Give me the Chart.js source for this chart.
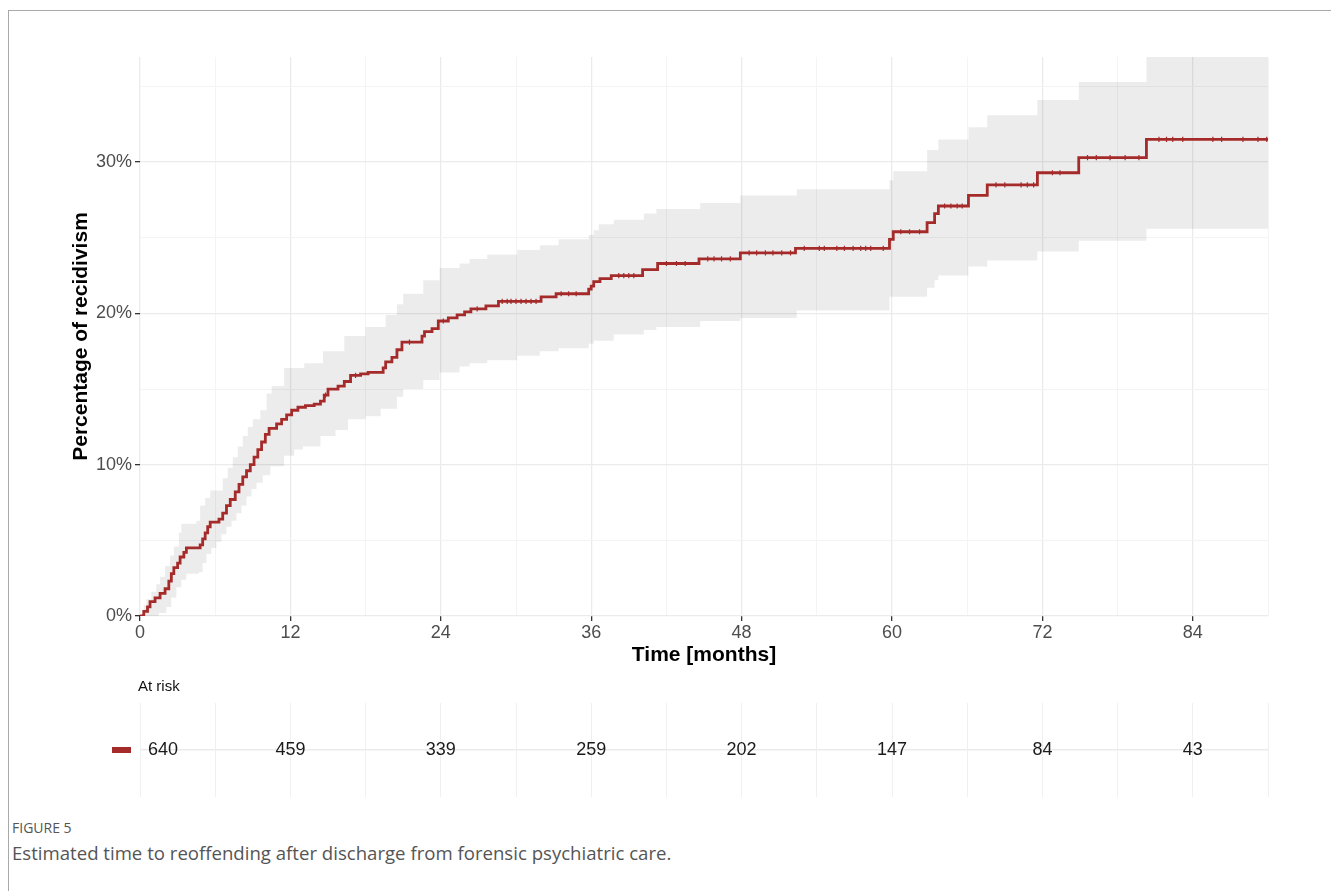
<!DOCTYPE html>
<html>
<head>
<meta charset="utf-8">
<title>Estimated time to reoffending</title>
<script src="https://cdn.jsdelivr.net/npm/chart.js@4.4.0/dist/chart.umd.min.js"></script>
<style>
  html, body { margin: 0; padding: 0; background: #fff; }
  body { width: 1331px; height: 891px; position: relative; overflow: hidden; font-family: "Liberation Sans", Arial, sans-serif; }
  #frame { position: absolute; left: 8px; top: 10px; width: 1400px; height: 1000px; border-left: 1.5px solid #a9a9a9; border-top: 1.5px solid #a9a9a9; }
  #mainChart { position: absolute; left: 0; top: 0; }
  #riskChart { position: absolute; left: 0; top: 690px; }
  #atRisk { position: absolute; left: 138px; top: 677px; font-size: 15px; color: #111; }
  #figLabel { position: absolute; left: 12px; top: 818px; font-family: "Open Sans", sans-serif; font-size: 14px; color: #555; }
  #caption { position: absolute; left: 12px; top: 840px; font-family: "Open Sans", sans-serif; font-size: 18.6px; color: #555; }
</style>
</head>
<body>
<div id="frame"></div>
<canvas id="mainChart" width="1331" height="680"></canvas>
<div id="atRisk">At risk</div>
<canvas id="riskChart" width="1331" height="120"></canvas>
<div id="figLabel">FIGURE 5</div>
<div id="caption">Estimated time to reoffending after discharge from forensic psychiatric care.</div>

<script>
// Kaplan-Meier estimate (cumulative % reoffended), step values from each time onward
const kmTime = [0, 0.3, 0.6, 0.8, 1.2, 1.6, 2.0, 2.3, 2.5, 2.7, 3.0, 3.2, 3.5, 3.7, 4.8, 5.0, 5.2, 5.4, 5.6, 6.3,
  6.6, 6.9, 7.2, 7.6, 7.9, 8.2, 8.5, 8.8, 9.1, 9.4, 9.7, 10.0, 10.3, 10.9, 11.3, 11.7, 12.1, 12.6, 13.2, 13.9,
  14.4, 14.7, 15.0, 15.8, 16.3, 16.8, 17.6, 18.2, 19.4, 19.6, 20.1, 20.5, 20.9, 22.5, 22.7, 23.3, 23.8, 24.6, 25.3, 25.9,
  26.4, 27.6, 28.6, 32.0, 33.2, 35.8, 36.0, 36.2, 36.7, 37.6, 40.1, 41.3, 44.6, 47.9, 52.3, 59.8, 60.1, 62.8, 63.4, 63.7,
  66.1, 67.6, 71.6, 74.9, 80.3, 90];
const kmPct = [0, 0.3, 0.6, 0.95, 1.2, 1.5, 1.8, 2.3, 2.8, 3.2, 3.5, 3.9, 4.2, 4.5, 4.7, 5.1, 5.5, 5.9, 6.2, 6.4,
  6.8, 7.3, 7.7, 8.2, 8.7, 9.2, 9.6, 10.0, 10.5, 11.0, 11.5, 12.0, 12.4, 12.7, 13.0, 13.3, 13.6, 13.8, 13.9, 14.0,
  14.2, 14.6, 15.0, 15.2, 15.5, 15.9, 16.0, 16.1, 16.4, 16.8, 17.1, 17.6, 18.1, 18.5, 18.8, 19.0, 19.5, 19.7, 19.9, 20.1,
  20.3, 20.5, 20.8, 21.1, 21.3, 21.6, 21.8, 22.1, 22.3, 22.5, 22.9, 23.3, 23.6, 24.0, 24.3, 24.9, 25.4, 26.0, 26.6, 27.1,
  27.8, 28.5, 29.3, 30.3, 31.5, 31.5];

// confidence band, upper limit
const upperTime = [0, 0.3, 0.5, 0.9, 1.3, 1.6, 2.0, 2.4, 2.7, 3.1, 3.3, 4.5, 4.8, 5.2, 5.6, 6.6, 7.0, 7.4, 7.8, 8.2,
  8.6, 9.0, 9.6, 10.1, 10.5, 11.5, 13.1, 14.6, 16.3, 18.0, 19.6, 20.5, 21.0, 22.6, 23.9, 25.5, 26.3, 27.7, 30.1, 31.9,
  33.4, 35.8, 36.2, 36.6, 37.8, 40.2, 41.2, 44.7, 47.9, 52.4, 59.8, 60.1, 62.8, 63.7, 66.1, 67.6, 71.6, 74.9, 80.3, 90];
const upperPct = [0, 0.7, 1.1, 1.6, 2.1, 2.6, 3.3, 4.0, 4.6, 5.5, 6.1, 6.3, 7.3, 7.8, 8.3, 9.1, 9.8, 10.5, 11.2, 11.9,
  12.5, 13.0, 13.6, 14.7, 15.2, 16.4, 16.7, 17.5, 18.5, 19.1, 19.9, 20.6, 21.3, 22.2, 23.0, 23.3, 23.6, 23.9, 24.2, 24.5,
  24.9, 25.2, 25.5, 25.9, 26.2, 26.6, 26.9, 27.3, 27.8, 28.2, 28.8, 29.4, 30.8, 31.5, 32.3, 33.1, 34.1, 35.3, 38.0, 38.0];

// confidence band, lower limit
const lowerTime = [0, 1.1, 1.5, 2.1, 2.5, 2.9, 3.3, 3.7, 4.7, 5.0, 5.3, 5.7, 6.1, 6.5, 6.9, 7.3, 7.7, 8.1, 8.5, 8.9,
  9.3, 9.8, 10.4, 11.5, 12.3, 13.0, 14.4, 15.6, 16.6, 18.0, 19.2, 20.5, 21.0, 22.6, 23.9, 25.5, 26.3, 27.7, 30.1, 31.9,
  33.4, 35.8, 36.2, 37.8, 40.2, 41.2, 44.7, 47.9, 52.4, 59.8, 62.8, 63.4, 63.7, 66.1, 67.6, 71.6, 74.9, 80.3, 90];
const lowerPct = [0, 0, 0.2, 0.6, 1.2, 1.9, 2.4, 2.8, 2.9, 3.5, 4.1, 4.5, 4.9, 5.4, 5.9, 6.3, 6.8, 7.3, 7.9, 8.4,
  8.8, 9.3, 9.9, 10.6, 11.0, 11.2, 11.9, 12.3, 13.0, 13.2, 13.7, 14.5, 15.0, 15.6, 16.1, 16.5, 16.7, 16.9, 17.2, 17.5,
  17.7, 18.0, 18.2, 18.6, 18.9, 19.1, 19.5, 19.7, 20.2, 21.1, 21.7, 22.2, 22.5, 23.1, 23.5, 24.1, 24.8, 25.6, 25.6];

// censored observations (months)
const censorTime = [14.8, 17.2, 21.5, 24.2, 26.9, 28.9, 29.3, 29.6, 30.0, 30.4, 30.8, 31.2, 31.6, 33.6, 34.2, 34.8,
  38.2, 38.6, 39.0, 39.4, 42.0, 42.8, 43.5, 45.3, 45.8, 46.4, 47.1, 48.6, 49.2, 49.9, 50.5, 51.2, 51.9, 53.0, 54.2,
  54.6, 55.6, 56.2, 56.9, 57.5, 57.9, 58.3, 59.3, 60.7, 61.4, 62.2, 64.2, 64.7, 65.2, 65.6, 68.3, 69.0, 70.3, 70.8,
  71.3, 72.8, 73.4, 75.6, 76.3, 77.4, 78.6, 79.7, 81.3, 81.9, 82.4, 83.2, 85.6, 86.3, 88.0, 89.2, 89.9];

// axis ticks and risk table
const monthTicks = [0, 12, 24, 36, 48, 60, 72, 84];
const pctTicks = [0, 10, 20, 30];
const riskTime = [0, 12, 24, 36, 48, 60, 72, 84];
const atRisk = [640, 459, 339, 259, 202, 147, 84, 43];

const lineColor = '#a52a2a';
Chart.defaults.font.family = '"Liberation Sans", Arial, sans-serif';

function toPoints(xs, ys) {
  return xs.map((x, i) => ({ x: x, y: ys[i] }));
}

// KM value at a given time (for placing censor marks on the curve)
function kmAt(t) {
  let v = 0;
  for (let i = 0; i < kmTime.length; i++) {
    if (kmTime[i] <= t) v = kmPct[i];
  }
  return v;
}

const isMajorX = v => v % 12 === 0;
const isMajorY = v => v % 10 === 0;

new Chart(document.getElementById('mainChart'), {
  type: 'line',
  data: {
    datasets: [
      {
        data: toPoints(upperTime, upperPct),
        stepped: true,
        borderWidth: 0,
        pointRadius: 0,
        backgroundColor: 'rgba(0,0,0,0.075)',
        fill: '+1',
        order: 3
      },
      {
        data: toPoints(lowerTime, lowerPct),
        stepped: true,
        borderWidth: 0,
        pointRadius: 0,
        fill: false,
        order: 4
      },
      {
        data: toPoints(kmTime, kmPct),
        stepped: true,
        borderColor: lineColor,
        borderWidth: 2.8,
        borderJoinStyle: 'miter',
        pointRadius: 0,
        fill: false,
        order: 1
      },
      {
        data: censorTime.map(t => ({ x: t, y: kmAt(t) })),
        showLine: false,
        pointStyle: 'cross',
        pointRadius: 2.6,
        pointBorderWidth: 1.2,
        pointBorderColor: lineColor,
        order: 0
      }
    ]
  },
  options: {
    responsive: false,
    animation: false,
    layout: { padding: { left: 0, top: 57, right: 63, bottom: 0 } },
    plugins: { legend: { display: false }, tooltip: { enabled: false } },
    scales: {
      x: {
        type: 'linear',
        min: 0,
        max: 90,
        border: { display: false },
        grid: {
          color: c => isMajorX(c.tick.value) ? '#ebebeb' : '#f4f4f4',
          lineWidth: c => isMajorX(c.tick.value) ? 1.3 : 1,
          tickLength: 5,
          tickColor: c => isMajorX(c.tick.value) ? '#333' : 'rgba(0,0,0,0)'
        },
        ticks: {
          stepSize: 6,
          includeBounds: false,
          autoSkip: false,
          maxRotation: 0,
          padding: 1,
          color: '#4d4d4d',
          font: { size: 18 },
          callback: v => monthTicks.includes(v) ? String(v) : ''
        },
        title: {
          display: true,
          text: 'Time [months]',
          color: '#000',
          font: { size: 21, weight: 'bold' },
          padding: { top: 0, bottom: 12 }
        },
        afterFit: s => { s.height = 64; }
      },
      y: {
        min: 0,
        max: 36.95,
        border: { display: false },
        grid: {
          color: c => isMajorY(c.tick.value) ? '#ebebeb' : '#f4f4f4',
          lineWidth: c => isMajorY(c.tick.value) ? 1.3 : 1,
          tickLength: 5,
          tickColor: c => isMajorY(c.tick.value) ? '#333' : 'rgba(0,0,0,0)'
        },
        ticks: {
          stepSize: 5,
          includeBounds: false,
          autoSkip: false,
          padding: 3,
          color: '#4d4d4d',
          font: { size: 18 },
          callback: v => pctTicks.includes(v) ? v + '%' : ''
        },
        title: {
          display: true,
          text: 'Percentage of recidivism',
          color: '#000',
          font: { size: 21, weight: 'bold' },
          padding: { top: 69, bottom: 0 }
        },
        afterFit: s => { s.width = 140; }
      }
    }
  }
});

// numbers at risk drawn at the x positions of the table scale
const riskLabels = {
  id: 'riskLabels',
  afterDatasetsDraw(chart) {
    const ctx = chart.ctx;
    const xs = chart.scales.x;
    const y = chart.scales.y.getPixelForValue(1);
    ctx.save();
    ctx.fillStyle = lineColor;
    ctx.fillRect(112, y - 3, 19, 6);
    ctx.fillStyle = '#1a1a1a';
    ctx.font = '18px "Liberation Sans", Arial, sans-serif';
    ctx.textBaseline = 'middle';
    atRisk.forEach((n, i) => {
      const x = xs.getPixelForValue(riskTime[i]);
      if (i === 0) {
        ctx.textAlign = 'left';
        ctx.fillText(String(n), x + 8, y);
      } else {
        ctx.textAlign = 'center';
        ctx.fillText(String(n), x, y);
      }
    });
    ctx.restore();
  }
};

new Chart(document.getElementById('riskChart'), {
  type: 'line',
  data: { datasets: [{ data: [], pointRadius: 0 }] },
  plugins: [riskLabels],
  options: {
    responsive: false,
    animation: false,
    layout: { padding: { left: 0, top: 13, right: 63, bottom: 13 } },
    plugins: { legend: { display: false }, tooltip: { enabled: false } },
    scales: {
      x: {
        type: 'linear',
        min: 0,
        max: 90,
        border: { display: false },
        grid: { color: '#f0f0f0', lineWidth: 1, drawTicks: false },
        ticks: { stepSize: 6, display: false },
        afterFit: s => { s.height = 0; }
      },
      y: {
        min: 0,
        max: 2,
        border: { display: false },
        grid: {
          color: c => c.tick.value === 1 ? '#ebebeb' : 'rgba(0,0,0,0)',
          lineWidth: 1.5,
          drawTicks: false
        },
        ticks: { stepSize: 1, display: false },
        afterFit: s => { s.width = 140; }
      }
    }
  }
});
</script>
</body>
</html>
